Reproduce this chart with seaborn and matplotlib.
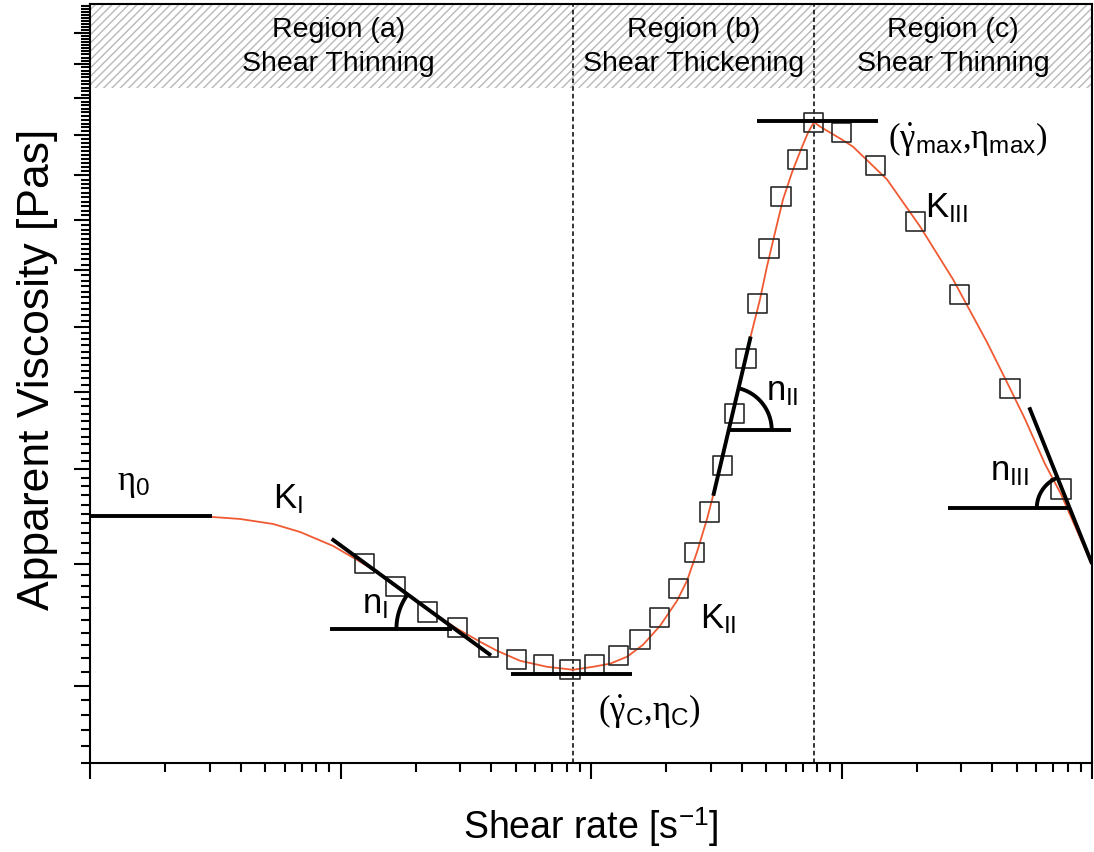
import numpy as np
import pandas as pd
import matplotlib
matplotlib.use("Agg")
import matplotlib.pyplot as plt
import seaborn as sns
from matplotlib.ticker import FixedLocator, NullFormatter, LogLocator

# ---------------- data ----------------
shear_rate_pts = [12.45, 16.61, 22.29, 29.27, 38.90, 50.51, 64.5, 82.45, 103.1, 128.5,
                  156.9, 187.3, 223.1, 258.5, 296.7, 335.5, 373.4, 415.7, 463.0, 513.5,
                  573.4, 666.2, 771.6, 1001.8, 1366.8, 1978.0, 2953, 4705, 7518]
viscosity_pts = [4.00, 3.79, 3.57, 3.44, 3.28, 3.19, 3.154, 3.117, 3.154, 3.222,
                 3.346, 3.521, 3.770, 4.104, 4.520, 5.040, 5.703, 6.491, 7.395, 8.419,
                 9.521, 10.38, 11.33, 11.07, 10.24, 8.965, 7.553, 6.049, 4.772]

fit_shear = [1, 1.736, 3.069, 3.971, 5.378, 6.892, 9.335, 11.63, 14.38, 18.09,
             22.77, 29.19, 36.06, 42.15, 52.08, 66.73, 84.77, 101.9, 119.1, 139.2,
             161.3, 188.6, 220.4, 241.6, 265.0, 290.5, 306.9, 434.0, 472.8, 504.2,
             542.7, 584.2, 634.5, 689.0, 735.0, 776.6, 820.9, 1004.6, 1111.4, 1519.5,
             2057.5, 2787.2, 3809.7, 4620, 5402, 6493, 7518, 10000]
fit_visc = [4.478, 4.478, 4.467, 4.446, 4.394, 4.312, 4.172, 4.037, 3.906, 3.744,
            3.580, 3.432, 3.328, 3.258, 3.182, 3.137, 3.115, 3.137, 3.160, 3.212,
            3.304, 3.455, 3.665, 3.842, 4.113, 4.446, 4.693, 6.842, 7.466, 8.068,
            8.739, 9.449, 10.07, 10.63, 11.06, 11.34, 11.22, 10.88, 10.70, 9.904,
            8.866, 7.825, 6.746, 6.109, 5.628, 5.061, 4.715, 3.989]

# reference / tangent lines
eta0_x, eta0_y = [1, 3.069], [4.478, 4.478]
tanI_x, tanI_y = [9.224, 39.89], [4.242, 3.222]
horI_x, horI_y = [9.080, 27.87], [3.432, 3.432]
min_x, min_y = [47.93, 145.8], [3.086, 3.086]
max_x, max_y = [461.2, 1402.8], [11.36, 11.36]
tanII_x, tanII_y = [307.7, 434.0], [4.697, 6.837]
horII_x, horII_y = [358.7, 628.7], [5.483, 5.483]
tanIII_x, tanIII_y = [5617, 10000], [5.786, 4.000]
horIII_x, horIII_y = [2669, 8042], [4.559, 4.559]

region_bounds = [84.77, 776.6]
region_labels = ["Region (a)\nShear Thinning", "Region (b)\nShear Thickening", "Region (c)\nShear Thinning"]
region_label_x = [9.8, 257.7, 2787]
band_y = [12.30, 15.0]

annot_texts = [r"$\eta_\mathsf{0}$", r"$\mathsf{K_I}$", r"$\mathsf{n_I}$",
               r"$(\dot{\gamma}_\mathsf{C}{,}\eta_\mathsf{C})$", r"$\mathsf{K_{II}}$",
               r"$\mathsf{n_{II}}$", r"$(\dot{\gamma}_\mathsf{max}{,}\eta_\mathsf{max})$",
               r"$\mathsf{K_{III}}$", r"$\mathsf{n_{III}}$"]
annot_x = [1.282, 5.378, 12.18, 106.6, 272.4, 499.6, 1533, 2154, 3915]
annot_y = [4.772, 4.573, 3.571, 2.776, 3.447, 5.899, 10.68, 9.078, 4.886]

# ---------------- style ----------------
sns.set_theme(style="ticks")
plt.rcParams["font.family"] = ["Liberation Sans", "DejaVu Sans"]
plt.rcParams["mathtext.fontset"] = "custom"
plt.rcParams["mathtext.rm"] = "Liberation Serif"
plt.rcParams["mathtext.it"] = "Liberation Serif"
plt.rcParams["mathtext.sf"] = "Liberation Sans"
plt.rcParams["hatch.linewidth"] = 1.0

fig = plt.figure(figsize=(10.94, 8.53), dpi=100)
ax = fig.add_axes([90 / 1094, (853 - 764) / 853, (1092 - 90) / 1094, (764 - 4.5) / 853])

ax.set_xscale("log")
ax.set_yscale("log")
ax.set_xlim(1, 1e4)
ax.set_ylim(2.5, 15)

# hatched header band
ax.axhspan(band_y[0], band_y[1], facecolor="none", edgecolor="#b8b8b8", hatch="////", linewidth=0, zorder=0)

# region boundaries
for xb in region_bounds:
    ax.axvline(xb, color="black", lw=1.1, linestyle=(0, (3, 2)), zorder=1)

# fit curve
fit_df = pd.DataFrame({"shear": fit_shear, "visc": fit_visc})
sns.lineplot(data=fit_df, x="shear", y="visc", sort=False, estimator=None,
             color="#f05a32", lw=1.3, ax=ax, zorder=2)

# data points
pts_df = pd.DataFrame({"shear": shear_rate_pts, "visc": viscosity_pts})
sns.scatterplot(data=pts_df, x="shear", y="visc", marker="s", s=190,
                facecolor="none", edgecolor="#2a2a2a", linewidth=1.2, ax=ax, zorder=3)

# tangent/reference lines
for lx, ly in [(eta0_x, eta0_y), (tanI_x, tanI_y), (horI_x, horI_y), (min_x, min_y),
               (max_x, max_y), (tanII_x, tanII_y), (horII_x, horII_y),
               (tanIII_x, tanIII_y), (horIII_x, horIII_y)]:
    ax.plot(lx, ly, color="black", lw=2.8, solid_capstyle="butt", zorder=4, clip_on=True)


def angle_arc(tx, ty, hy, radius_px, side):
    trans = ax.transData
    p1 = trans.transform((tx[0], ty[0]))
    p2 = trans.transform((tx[1], ty[1]))
    yh = trans.transform((1, hy))[1]
    t = (yh - p1[1]) / (p2[1] - p1[1])
    cx = p1[0] + t * (p2[0] - p1[0])
    cy = yh
    up = p1 if p1[1] > p2[1] else p2
    ang = np.arctan2(up[1] - cy, up[0] - cx)
    if side == "left":
        th = np.linspace(ang, np.pi, 80)
    else:
        th = np.linspace(0, ang, 80)
    pts = np.column_stack([cx + radius_px * np.cos(th), cy + radius_px * np.sin(th)])
    d = trans.inverted().transform(pts)
    ax.plot(d[:, 0], d[:, 1], color="black", lw=2.8, solid_capstyle="butt", zorder=4)


angle_arc(tanI_x, tanI_y, horI_y[0], 58, "left")
angle_arc(tanII_x, tanII_y, horII_y[0], 43, "right")
angle_arc(tanIII_x, tanIII_y, horIII_y[0], 33, "left")

# annotations
for txt, x, y in zip(annot_texts, annot_x, annot_y):
    ax.text(x, y, txt, fontsize=25, ha="left", va="baseline", color="black", zorder=5)

# region labels
for txt, x in zip(region_labels, region_label_x):
    ax.text(x, 0.944, txt, transform=ax.get_xaxis_transform(), fontsize=20.5,
            ha="center", va="center", linespacing=1.42, color="black", zorder=5)

# axes / ticks
ax.xaxis.set_major_locator(LogLocator(base=10, numticks=10))
ax.xaxis.set_minor_locator(LogLocator(base=10, subs=np.arange(2, 10), numticks=50))
ax.xaxis.set_major_formatter(NullFormatter())
ax.xaxis.set_minor_formatter(NullFormatter())
ax.yaxis.set_major_locator(FixedLocator(list(range(3, 15))))
minor_y = [v / 10 for v in range(25, 151) if v % 10 != 0]
ax.yaxis.set_minor_locator(FixedLocator(minor_y))
ax.yaxis.set_major_formatter(NullFormatter())
ax.yaxis.set_minor_formatter(NullFormatter())
ax.tick_params(axis="both", which="major", direction="out", length=11.5, width=1.5, color="black")
ax.tick_params(axis="both", which="minor", direction="out", length=6.5, width=1.5, color="black")
ax.tick_params(top=False, right=False, which="both")
for sp in ax.spines.values():
    sp.set_linewidth(1.5)
    sp.set_color("black")
    sp.set_visible(True)

ax.set_xlabel(r"Shear rate [s$^{\mathsf{-1}}$]", fontsize=27, labelpad=15, color="black")
ax.set_ylabel("Apparent Viscosity [Pas]", fontsize=32, labelpad=6, color="black")
ax.yaxis.set_label_coords(-0.032, 0.52)
ax.set_facecolor("white")
fig.patch.set_facecolor("white")

fig.savefig("out.png", dpi=100)
